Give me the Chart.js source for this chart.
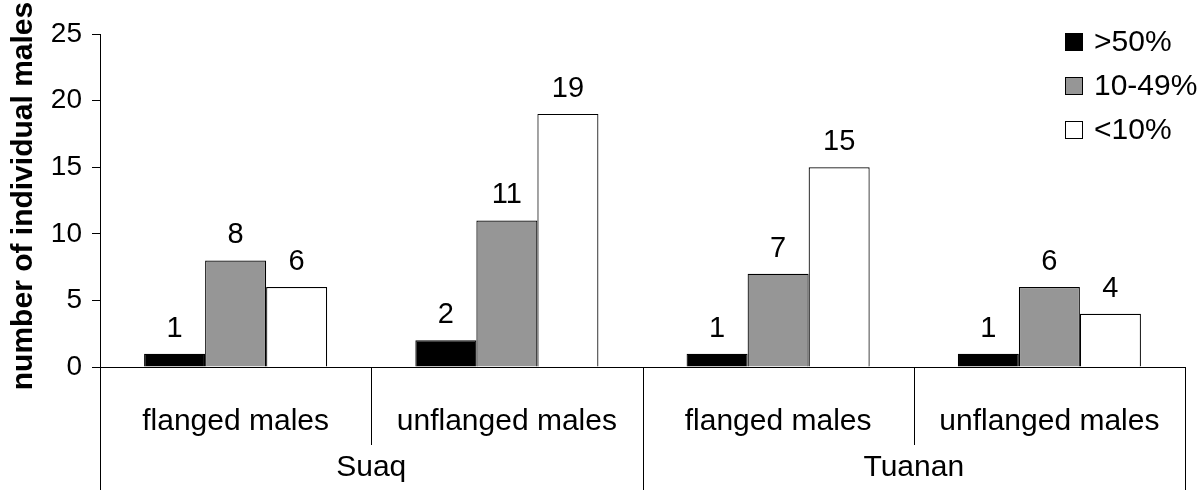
<!DOCTYPE html>
<html>
<head>
<meta charset="utf-8">
<script src="https://cdn.jsdelivr.net/npm/chart.js@4"></script>
<style>
    html, body { margin: 0; padding: 0; background: #fff; }
    #wrap { width: 1200px; height: 490px; }
</style>
</head>
<body>
<div id="wrap"><canvas id="grafico"></canvas></div>
<script>
// Dados do gráfico
const categorias = ['flanged males', 'unflanged males', 'flanged males', 'unflanged males'];
const grupos = ['Suaq', 'Tuanan'];
const series = ['>50%', '10-49%', '<10%'];
const acima50 = [1, 2, 1, 1];
const entre10e49 = [8, 11, 7, 6];
const abaixo10 = [6, 19, 15, 4];
const ticksY = [0, 5, 10, 15, 20, 25];

const fonte = '"Liberation Sans", Arial, sans-serif';
const cores = ['#000000', '#969696', '#ffffff'];

// Rótulos, eixos de grupos, legenda e título
const pluginExtras = {
    id: 'extras',
    afterDraw(chart) {
        const ctx = chart.ctx;
        const x = chart.scales.x;
        const area = chart.chartArea;
        const base = area.bottom;
        ctx.save();

        // valores sobre as barras
        ctx.fillStyle = '#000';
        ctx.font = '29px ' + fonte;
        ctx.textAlign = 'center';
        ctx.textBaseline = 'alphabetic';
        chart.data.datasets.forEach((ds, i) => {
            chart.getDatasetMeta(i).data.forEach((bar, j) => {
                ctx.fillText(String(ds.data[j]), bar.x, bar.y - 17);
            });
        });

        // linhas do eixo de categorias
        ctx.strokeStyle = '#000';
        ctx.lineWidth = 1;
        const limite = (i) => (x.getPixelForValue(i) + x.getPixelForValue(i + 1)) / 2;
        const linha = (px, y2) => {
            ctx.beginPath();
            ctx.moveTo(Math.round(px) + 0.5, base);
            ctx.lineTo(Math.round(px) + 0.5, y2);
            ctx.stroke();
        };
        linha(area.left, 490);
        linha(limite(0), base + 78);
        linha(limite(2), base + 78);
        linha(limite(1), 490);
        linha(area.right, 490);

        // nomes das categorias
        ctx.font = '30px ' + fonte;
        ctx.textBaseline = 'middle';
        categorias.forEach((c, i) => {
            ctx.fillText(c, x.getPixelForValue(i), base + 55);
        });
        grupos.forEach((g, k) => {
            const meio = (x.getPixelForValue(2 * k) + x.getPixelForValue(2 * k + 1)) / 2;
            ctx.fillText(g, meio, base + 101);
        });

        // legenda
        ctx.textAlign = 'left';
        series.forEach((s, i) => {
            const cy = 42 + i * 44;
            ctx.fillStyle = cores[i];
            ctx.fillRect(1065, cy - 9, 18, 18);
            ctx.strokeRect(1065.5, cy - 8.5, 17, 17);
            ctx.fillStyle = '#000';
            ctx.fillText(s, 1094, cy + 1);
        });

        // título do eixo Y
        ctx.translate(24, 196);
        ctx.rotate(-Math.PI / 2);
        ctx.textAlign = 'center';
        ctx.font = 'bold 30px ' + fonte;
        ctx.fillText('number of individual males', 0, 0);
        ctx.restore();
    }
};

const ctx = document.getElementById('grafico').getContext('2d');
window.grafico = new Chart(ctx, {
    type: 'bar',
    data: {
        labels: categorias,
        datasets: [
            { label: series[0], data: acima50, backgroundColor: cores[0], borderColor: '#000', borderWidth: 1.2 },
            { label: series[1], data: entre10e49, backgroundColor: cores[1], borderColor: '#000', borderWidth: 1.2 },
            { label: series[2], data: abaixo10, backgroundColor: cores[2], borderColor: '#000', borderWidth: 1.2 }
        ]
    },
    options: {
        responsive: true,
        maintainAspectRatio: false,
        animation: false,
        layout: { padding: { top: 34, right: 15, left: 0, bottom: 0 } },
        datasets: { bar: { categoryPercentage: 0.675, barPercentage: 1 } },
        scales: {
            x: {
                ticks: { display: false },
                grid: { display: false },
                border: { display: true, color: '#000', width: 1 },
                afterFit: (s) => { s.height = 123; }
            },
            y: {
                min: 0,
                max: 25,
                afterBuildTicks: (s) => { s.ticks = ticksY.map(v => ({ value: v })); },
                ticks: {
                    color: '#000',
                    font: { family: fonte, size: 28 },
                    padding: 10
                },
                grid: { drawOnChartArea: false, tickLength: 8, color: '#000' },
                border: { display: true, color: '#000', width: 1 },
                afterFit: (s) => { s.width = 100; }
            }
        },
        plugins: {
            legend: { display: false },
            tooltip: { enabled: false }
        }
    },
    plugins: [pluginExtras]
});
</script>
</body>
</html>
